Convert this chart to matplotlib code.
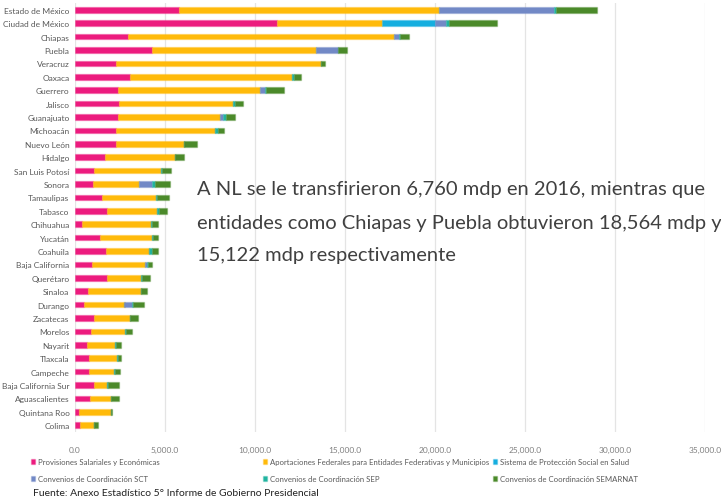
import matplotlib.pyplot as plt
import numpy as np
from matplotlib.colors import to_rgba

plt.rcParams['font.family'] = ['Lato', 'DejaVu Sans']

estados = ['Estado de México', 'Ciudad de México', 'Chiapas', 'Puebla', 'Veracruz',
           'Oaxaca', 'Guerrero', 'Jalisco', 'Guanajuato', 'Michoacán', 'Nuevo León',
           'Hidalgo', 'San Luis Potosí', 'Sonora', 'Tamaulipas', 'Tabasco', 'Chihuahua',
           'Yucatán', 'Coahuila', 'Baja California', 'Querétaro', 'Sinaloa', 'Durango',
           'Zacatecas', 'Morelos', 'Nayarit', 'Tlaxcala', 'Campeche',
           'Baja California Sur', 'Aguascalientes', 'Quintana Roo', 'Colima']

# millones de pesos
provisiones = [5770, 11200, 2940, 4280, 2270, 3030, 2400, 2440, 2400, 2260, 2300,
               1660, 1030, 1000, 1520, 1750, 370, 1370, 1720, 970, 1780, 700, 480,
               1040, 900, 640, 800, 770, 1040, 850, 240, 300]
aportaciones = [14450, 5870, 14760, 9090, 11370, 9020, 7900, 6330, 5650, 5540, 3740,
                3900, 3750, 2530, 2980, 2810, 3830, 2920, 2410, 2910, 1860, 2940, 2270,
                1990, 1880, 1610, 1560, 1370, 760, 1150, 1760, 740]
salud = [0, 2930, 0, 0, 0, 0, 0, 0, 0, 0, 0, 0, 0, 0, 0, 0, 0, 0, 0, 0, 0, 0, 0,
         0, 0, 0, 0, 0, 0, 0, 0, 0]
sct = [6400, 600, 300, 1230, 0, 0, 270, 0, 150, 0, 0, 0, 0, 740, 0, 0, 0, 0, 0, 120,
       0, 0, 410, 0, 0, 0, 0, 0, 0, 0, 0, 0]
sep = [100, 200, 50, 20, 50, 100, 50, 130, 200, 130, 20, 20, 70, 150, 70, 110, 60, 30,
       170, 30, 60, 40, 60, 40, 40, 20, 20, 60, 20, 20, 0, 20]
semarnat = [2300, 2650, 510, 500, 210, 400, 1000, 450, 470, 370, 700, 490, 480, 860,
            630, 460, 370, 310, 300, 260, 470, 320, 610, 430, 320, 260, 150, 300, 630,
            400, 70, 240]

series = [provisiones, aportaciones, salud, sct, sep, semarnat]
nombres = ['Provisiones Salariales y Económicas',
           'Aportaciones Federales para Entidades Federativas y Municipios',
           'Sistema de Protección Social en Salud',
           'Convenios de Coordinación SCT',
           'Convenios de Coordinación SEP',
           'Convenios de Coordinación SEMARNAT']
colores = ['#EC1B7E', '#FFBA0A', '#15AEDF', '#7289C6', '#20B4A0', '#4B8A2A']

xticks = [0, 5000, 10000, 15000, 20000, 25000, 30000, 35000]

fig = plt.figure(figsize=(7.21, 5.02), dpi=100)
ax = fig.add_axes([75/721, 1-433/502, 630/721, 429/502])

y = np.arange(len(estados))
left = np.zeros(len(estados))
handles = []
for vals, nom, col in zip(series, nombres, colores):
    vals = np.array(vals, dtype=float)
    b = ax.barh(y, vals, left=left, height=0.42, color=col, label=nom,
                edgecolor=to_rgba(col, 0.3), linewidth=1.0)
    handles.append(b)
    left += vals

ax.set_ylim(len(estados) - 0.5, -0.5)
ax.set_xlim(0, 35000)
ax.set_yticks(y)
ax.set_yticklabels(estados, fontsize=6, color='#595959')
ax.set_xticks(xticks)
ax.set_xticklabels(['{:,.1f}'.format(v) for v in xticks], fontsize=6, color='#7f7f7f')
ax.tick_params(axis='y', length=0, pad=4)
ax.tick_params(axis='x', length=0, pad=10)
ax.grid(axis='x', color='#e4e4e4', linewidth=0.9)
ax.set_axisbelow(True)
for s in ax.spines.values():
    s.set_visible(False)

# leyenda en tres columnas (filas: 1-2-3 / 4-5-6)
colx = [31/721, 263/721, 493/721]
for i in range(3):
    lg = fig.legend([handles[i], handles[i+3]], [nombres[i], nombres[i+3]],
                    loc='upper left', bbox_to_anchor=(colx[i], 1-459/502),
                    frameon=False, fontsize=5.6, handlelength=0.55, handleheight=0.55,
                    handletextpad=0.3, labelspacing=1.3, borderpad=0, borderaxespad=0,
                    labelcolor='#595959')

fig.text(33/721, 1-494/502, 'Fuente: Anexo Estadístico 5° Informe de Gobierno Presidencial',
         fontsize=7.5, color='#222222', va='center', ha='left')

lineas = ['A NL se le transfirieron 6,760 mdp en 2016, mientras que',
          'entidades como Chiapas y Puebla obtuvieron 18,564 mdp y',
          '15,122 mdp respectivamente']
for txt, yy in zip(lineas, [190, 223, 256]):
    fig.text(197/721, 1-yy/502, txt, fontsize=14.5, color='#404040', va='center', ha='left')

fig.savefig('out.png', dpi=100)
